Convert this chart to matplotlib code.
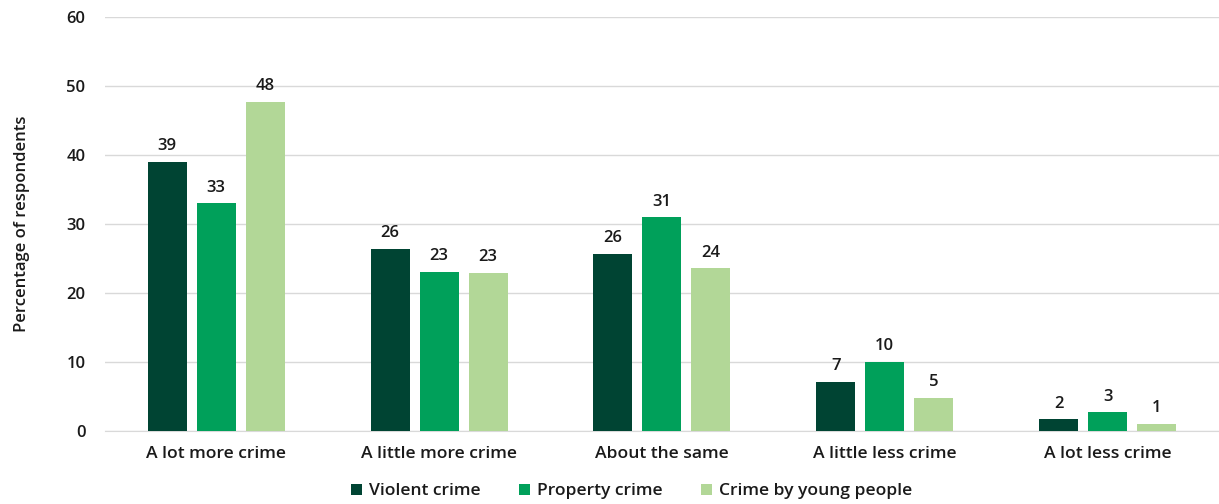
import numpy as np
import matplotlib.pyplot as plt

plt.rcParams['font.family'] = ['Open Sans', 'DejaVu Sans']

categories = ["A lot more crime", "A little more crime", "About the same",
              "A little less crime", "A lot less crime"]
violent = [39.0, 26.4, 25.7, 7.1, 1.7]
property_ = [33.0, 23.1, 31.0, 10.0, 2.7]
young = [47.7, 22.9, 23.6, 4.8, 1.0]

series = ["Violent crime", "Property crime", "Crime by young people"]
colors = ["#004433", "#00A05A", "#B2D797"]

fig = plt.figure(figsize=(12.19, 5.04), dpi=100)
ax = fig.add_axes([0.086, 0.145, 0.914, 0.821])

x = np.arange(len(categories))
width = 0.175
step = 0.22

for i, (vals, name, col) in enumerate(zip([violent, property_, young], series, colors)):
    pos = x + (i - 1) * step
    ax.bar(pos, vals, width, color=col, label=name, zorder=3)
    for px, v in zip(pos, vals):
        ax.text(px, v + 1.1, f"{v:.0f}", ha="center", va="bottom",
                fontsize=12, fontweight="semibold", color="#1a1a1a")

ax.set_xlim(-0.5, len(categories) - 0.5)
ax.set_ylim(0, 60)
ax.set_yticks(range(0, 61, 10))
ax.set_xticks(x)
ax.set_xticklabels(categories, fontsize=12.6)
ax.tick_params(axis="both", length=0, colors="#1a1a1a")
ax.tick_params(axis="y", pad=14, labelsize=12)
ax.tick_params(axis="x", pad=11)
for lab in ax.get_xticklabels() + ax.get_yticklabels():
    lab.set_fontweight("semibold")

ax.grid(axis="y", color="#d9d9d9", linewidth=1, zorder=0)
for side in ["top", "right", "left"]:
    ax.spines[side].set_visible(False)
ax.spines["bottom"].set_color("#d9d9d9")

ax.set_ylabel("Percentage of respondents", fontsize=12, fontweight="semibold",
              color="#1a1a1a", labelpad=26)

leg = fig.legend(loc="lower center", bbox_to_anchor=(0.518, -0.022), ncol=3,
                 frameon=False, fontsize=12.6, handlelength=0.62, handleheight=0.62,
                 handletextpad=0.4, columnspacing=2.2)
for t in leg.get_texts():
    t.set_fontweight("semibold")
    t.set_color("#1a1a1a")

fig.savefig("out.png", dpi=100)
